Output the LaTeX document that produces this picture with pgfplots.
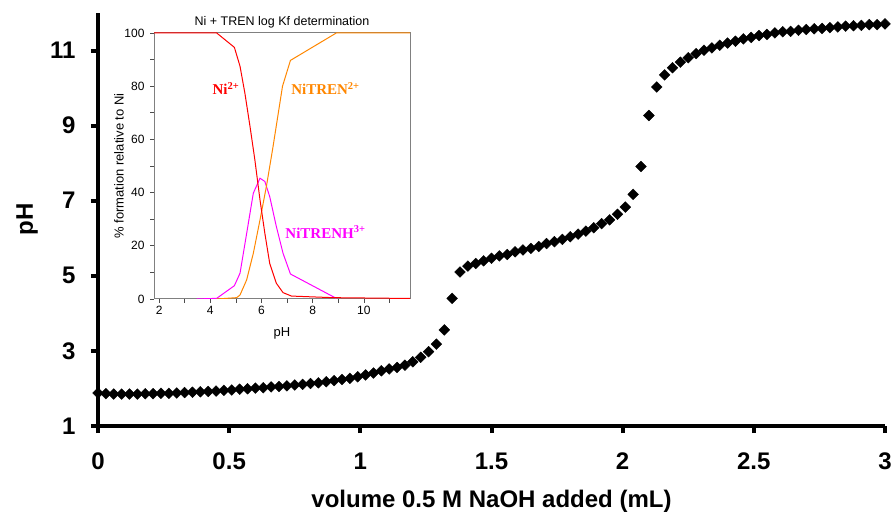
\documentclass[border=0pt]{standalone}
\usepackage{pgfplots}
\pgfplotsset{compat=1.18}
\usepackage{fontspec}
\setmainfont{Liberation Sans}
\newfontfamily\tnr{Liberation Serif}
\definecolor{niorange}{RGB}{255,135,0}
\definecolor{nimag}{RGB}{255,0,255}
\definecolor{nired}{RGB}{255,0,0}
\definecolor{insetgray}{RGB}{128,128,128}
\pgfplotstableread{
x y
0.00 1.88
0.03 1.86
0.06 1.85
0.09 1.85
0.12 1.85
0.15 1.85
0.18 1.86
0.21 1.86
0.24 1.87
0.27 1.87
0.30 1.88
0.33 1.89
0.36 1.90
0.39 1.91
0.42 1.92
0.45 1.93
0.48 1.95
0.51 1.96
0.54 1.98
0.57 1.99
0.60 2.01
0.63 2.02
0.66 2.04
0.69 2.05
0.72 2.07
0.75 2.09
0.78 2.11
0.81 2.13
0.84 2.15
0.87 2.18
0.90 2.21
0.93 2.24
0.96 2.27
0.99 2.31
1.02 2.36
1.05 2.41
1.08 2.47
1.11 2.52
1.14 2.56
1.17 2.62
1.20 2.71
1.23 2.83
1.26 2.98
1.29 3.18
1.32 3.56
1.35 4.40
1.38 5.10
1.41 5.26
1.44 5.33
1.47 5.40
1.50 5.47
1.53 5.53
1.56 5.57
1.59 5.64
1.62 5.69
1.65 5.73
1.68 5.78
1.71 5.86
1.74 5.91
1.77 5.97
1.80 6.04
1.83 6.11
1.86 6.19
1.89 6.28
1.92 6.39
1.95 6.49
1.98 6.64
2.01 6.83
2.04 7.17
2.07 7.91
2.10 9.27
2.13 10.03
2.16 10.35
2.19 10.54
2.22 10.69
2.25 10.81
2.28 10.92
2.31 11.01
2.34 11.07
2.37 11.14
2.40 11.20
2.43 11.25
2.46 11.31
2.49 11.35
2.52 11.40
2.55 11.43
2.58 11.47
2.61 11.50
2.64 11.51
2.67 11.54
2.70 11.56
2.73 11.58
2.76 11.59
2.79 11.61
2.82 11.63
2.85 11.65
2.88 11.66
2.91 11.67
2.94 11.69
2.97 11.69
3.00 11.71
}\titration
\pgfplotstableread{
x y
1.80 100
4.25 100
4.94 94.6
5.16 87.5
5.35 77.4
5.55 64.9
5.74 52.3
5.94 37.3
6.13 24.7
6.32 13.4
6.58 5.9
6.84 2.4
7.17 1.1
8.79 0.5
11.8 0.2
}\nifree
\pgfplotstableread{
x y
4.25 0
5.03 0.5
5.16 1.5
5.42 7.2
5.68 17.2
5.94 29.7
6.19 42.3
6.45 57.3
6.82 80
7.13 89.7
8.92 100
11.8 100
}\nitren
\pgfplotstableread{
x y
3.47 0
4.25 0.25
4.94 5
5.16 9.7
5.42 24.7
5.68 39.8
5.94 45.4
6.13 44.2
6.32 38.5
6.58 27.2
6.84 17.2
7.13 9.4
8.92 0.25
}\nitrenh
\begin{document}
\begin{tikzpicture}[x=1pt,y=1pt]
\useasboundingbox (0,0) rectangle (895,517);
\begin{axis}[
  at={(98pt,91pt)}, anchor=south west,
  scale only axis, width=787pt, height=413pt,
  xmin=0, xmax=3, ymin=1, ymax=12,
  axis lines*=left,
  axis line style={line width=4pt},
  xtick={0,0.5,1,1.5,2,2.5,3},
  xticklabels={0,0.5,1,1.5,2,2.5,3},
  ytick={1,3,5,7,9,11},
  tick align=outside,
  major tick length=7pt,
  tick style={line width=4pt, black},
  ticklabel style={font=\fontsize{24}{24}\selectfont\bfseries},
  xticklabel style={yshift=-16pt},
  yticklabel style={xshift=-12pt},
  /pgf/number format/assume math mode=true,
  xlabel={volume 0.5 M NaOH added (mL)},
  ylabel={pH},
  label style={font=\fontsize{24}{24}\selectfont\bfseries},
  xlabel style={at={(rel axis cs:0.5,0)}, anchor=center, yshift=-75pt},
  ylabel style={at={(rel axis cs:0,0.5)}, anchor=center, yshift=71pt},
  clip=false,
]
\addplot[only marks, mark=square*, mark size=3.8pt, mark options={rotate=45, fill=black, draw=black}] table[x=x,y=y] {\titration};
\end{axis}
\begin{axis}[
  at={(154pt,218pt)}, anchor=south west,
  scale only axis, width=256pt, height=266pt,
  xmin=1.8, xmax=11.8, ymin=0, ymax=100,
  axis background/.style={fill=white},
  axis line style={insetgray, line width=1pt},
  xtick={2,4,...,10}, minor xtick={3,5,...,11},
  ytick={0,20,...,100}, minor ytick={10,30,...,90},
  xtick pos=left, ytick pos=left,
  tick align=outside,
  major tick length=4pt, minor tick length=4pt,
  tick style={black!70, line width=0.8pt},
  ticklabel style={font=\fontsize{12}{12}\selectfont},
  yticklabel style={xshift=-2pt},
  /pgf/number format/assume math mode=true,
  title={Ni + TREN log Kf determination},
  title style={font=\fontsize{12.5}{13}\selectfont, at={(rel axis cs:0.5,1)}, anchor=center, yshift=5pt},
  xlabel={pH},
  ylabel={\% formation relative to Ni},
  label style={font=\fontsize{13}{13}\selectfont},
  xlabel style={at={(rel axis cs:0.5,0)}, anchor=center, yshift=-34pt},
  ylabel style={at={(rel axis cs:0,0.5)}, anchor=center, yshift=35pt},
]
\addplot[nimag, line width=1pt] table[x=x,y=y] {\nitrenh};
\addplot[niorange, line width=1pt] table[x=x,y=y] {\nitren};
\addplot[nired, line width=1pt] table[x=x,y=y] {\nifree};
\node[nired, font=\tnr\fontsize{15}{15}\selectfont\bfseries] at (axis cs:4.61,79) {Ni\textsuperscript{2+}};
\node[niorange, font=\tnr\fontsize{15}{15}\selectfont\bfseries] at (axis cs:8.5,79) {NiTREN\textsuperscript{2+}};
\node[nimag, font=\tnr\fontsize{15}{15}\selectfont\bfseries] at (axis cs:8.5,25.2) {NiTRENH\textsuperscript{3+}};
\end{axis}
\end{tikzpicture}
\end{document}
